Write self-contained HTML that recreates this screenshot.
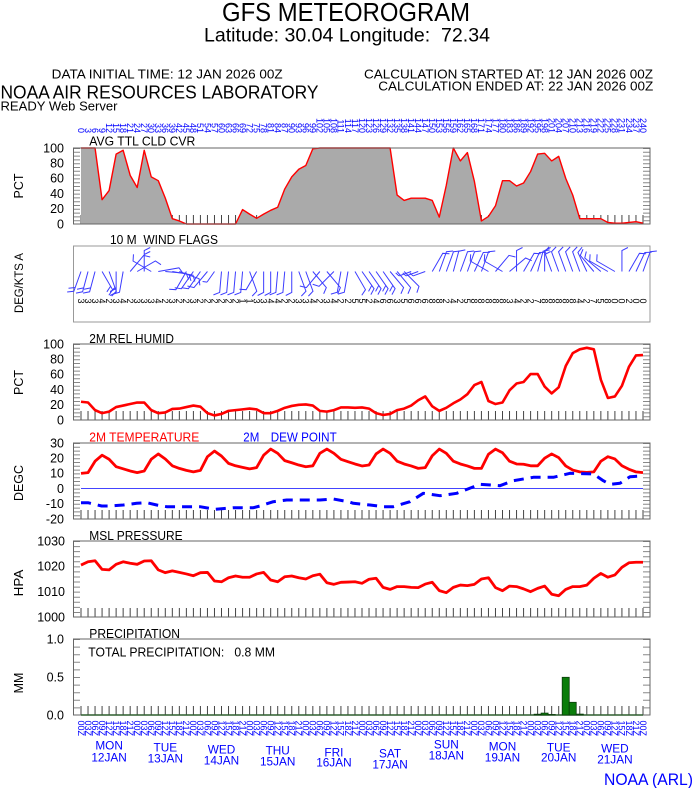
<!DOCTYPE html>
<html><head><meta charset="utf-8"><style>
html,body{margin:0;padding:0;background:#fff;}
body{width:694px;height:788px;overflow:hidden;}
svg{display:block;font-family:"Liberation Sans",Arial,sans-serif;}
</style></head><body>
<svg width="694" height="788" viewBox="0 0 694 788" xmlns="http://www.w3.org/2000/svg">
<defs>
<g id="w0"><path d="M0,0V-13M0,-13L4,-15" fill="none" stroke="#3c3cff" stroke-width="1"/></g>
<g id="w1"><path d="M0,0V-21L6,-24" fill="none" stroke="#3c3cff" stroke-width="1"/></g>
<g id="w2"><path d="M0,0V-21L6,-24M0,-17L6,-20" fill="none" stroke="#3c3cff" stroke-width="1"/></g>
</defs>
<rect width="694" height="788" fill="#fff"/>

<!-- header -->
<text x="222" y="21" font-size="26" textLength="248" lengthAdjust="spacingAndGlyphs">GFS METEOROGRAM</text>
<text x="204" y="41.7" font-size="19.5" textLength="286" lengthAdjust="spacingAndGlyphs">Latitude: 30.04 Longitude:&#160; 72.34</text>
<text x="51.7" y="78.3" font-size="13" textLength="231" lengthAdjust="spacingAndGlyphs">DATA INITIAL TIME: 12 JAN 2026 00Z</text>
<text x="364" y="78.3" font-size="13" textLength="289" lengthAdjust="spacingAndGlyphs">CALCULATION STARTED AT: 12 JAN 2026 00Z</text>
<text x="378.3" y="90.7" font-size="13" textLength="275" lengthAdjust="spacingAndGlyphs">CALCULATION ENDED AT: 22 JAN 2026 00Z</text>
<text x="0.5" y="98.3" font-size="18.5" textLength="318" lengthAdjust="spacingAndGlyphs">NOAA AIR RESOURCES LABORATORY</text>
<text x="0.5" y="110.5" font-size="13" textLength="117" lengthAdjust="spacingAndGlyphs">READY Web Server</text>

<!-- top forecast hour labels -->
<g transform="rotate(90)" font-size="9" fill="#0000ff" text-anchor="end">
<text x="133" y="-77.8">0</text><text x="133" y="-84.83">3</text><text x="133" y="-91.85">6</text><text x="133" y="-98.88">9</text><text x="133" y="-105.9">12</text><text x="133" y="-112.93">15</text><text x="133" y="-119.95">18</text><text x="133" y="-126.98">21</text><text x="133" y="-134">24</text><text x="133" y="-141.03">27</text><text x="133" y="-148.05">30</text><text x="133" y="-155.08">33</text><text x="133" y="-162.1">36</text><text x="133" y="-169.13">39</text><text x="133" y="-176.15">42</text><text x="133" y="-183.18">45</text><text x="133" y="-190.2">48</text><text x="133" y="-197.23">51</text><text x="133" y="-204.25">54</text><text x="133" y="-211.28">57</text><text x="133" y="-218.3">60</text><text x="133" y="-225.33">63</text><text x="133" y="-232.35">66</text><text x="133" y="-239.38">69</text><text x="133" y="-246.4">72</text><text x="133" y="-253.43">75</text><text x="133" y="-260.45">78</text><text x="133" y="-267.48">81</text><text x="133" y="-274.5">84</text><text x="133" y="-281.53">87</text><text x="133" y="-288.55">90</text><text x="133" y="-295.58">93</text><text x="133" y="-302.6">96</text><text x="133" y="-309.63">99</text><text x="133" y="-316.65">102</text><text x="133" y="-323.68">105</text><text x="133" y="-330.7">108</text><text x="133" y="-337.73">111</text><text x="133" y="-344.75">114</text><text x="133" y="-351.78">117</text><text x="133" y="-358.8">120</text><text x="133" y="-365.83">123</text><text x="133" y="-372.85">126</text><text x="133" y="-379.88">129</text><text x="133" y="-386.9">132</text><text x="133" y="-393.93">135</text><text x="133" y="-400.95">138</text><text x="133" y="-407.98">141</text><text x="133" y="-415">144</text><text x="133" y="-422.03">147</text><text x="133" y="-429.05">150</text><text x="133" y="-436.08">153</text><text x="133" y="-443.1">156</text><text x="133" y="-450.13">159</text><text x="133" y="-457.15">162</text><text x="133" y="-464.18">165</text><text x="133" y="-471.2">168</text><text x="133" y="-478.23">171</text><text x="133" y="-485.25">174</text><text x="133" y="-492.28">177</text><text x="133" y="-499.3">180</text><text x="133" y="-506.33">183</text><text x="133" y="-513.35">186</text><text x="133" y="-520.38">189</text><text x="133" y="-527.4">192</text><text x="133" y="-534.43">195</text><text x="133" y="-541.45">198</text><text x="133" y="-548.48">201</text><text x="133" y="-555.5">204</text><text x="133" y="-562.53">207</text><text x="133" y="-569.55">210</text><text x="133" y="-576.58">213</text><text x="133" y="-583.6">216</text><text x="133" y="-590.63">219</text><text x="133" y="-597.65">222</text><text x="133" y="-604.68">225</text><text x="133" y="-611.7">228</text><text x="133" y="-618.73">231</text><text x="133" y="-625.75">234</text><text x="133" y="-632.78">237</text><text x="133" y="-639.8">240</text>
</g>

<!-- axis titles -->
<g font-size="13" text-anchor="middle">
<text transform="translate(23,186) rotate(-90)" textLength="25" lengthAdjust="spacingAndGlyphs">PCT</text>
<text transform="translate(23,283) rotate(-90)" font-size="11.5" textLength="60" lengthAdjust="spacingAndGlyphs">DEG/KTS A</text>
<text transform="translate(23,382.5) rotate(-90)" textLength="25" lengthAdjust="spacingAndGlyphs">PCT</text>
<text transform="translate(23,483) rotate(-90)" textLength="36" lengthAdjust="spacingAndGlyphs">DEGC</text>
<text transform="translate(23,583) rotate(-90)" textLength="26.7" lengthAdjust="spacingAndGlyphs">HPA</text>
<text transform="translate(23,683) rotate(-90)" textLength="20.7" lengthAdjust="spacingAndGlyphs">MM</text>
</g>

<!-- y tick labels -->
<g font-size="12.5" text-anchor="end">
<text x="64" y="152.3">100</text><text x="64" y="167.5">80</text><text x="64" y="182.7">60</text><text x="64" y="197.9">40</text><text x="64" y="213.1">20</text><text x="64" y="228.3">0</text>
<text x="64" y="348.3">100</text><text x="64" y="363.5">80</text><text x="64" y="378.7">60</text><text x="64" y="393.9">40</text><text x="64" y="409.1">20</text><text x="64" y="424.3">0</text>
<text x="64" y="447.3">30</text><text x="64" y="462.5">20</text><text x="64" y="477.7">10</text><text x="64" y="492.9">0</text><text x="64" y="508.1">-10</text><text x="64" y="523.3">-20</text>
<text x="65" y="545.3">1030</text><text x="65" y="570.6">1020</text><text x="65" y="596">1010</text><text x="65" y="621.3">1000</text>
<text x="64" y="643.3">1.0</text><text x="64" y="681.3">0.5</text><text x="64" y="719.3">0.0</text>
</g>

<!-- panel titles -->
<g font-size="12.5">
<text x="89.3" y="145.5" textLength="106" lengthAdjust="spacingAndGlyphs">AVG TTL CLD CVR</text>
<text x="110" y="244" textLength="108" lengthAdjust="spacingAndGlyphs">10 M&#160; WIND FLAGS</text>
<text x="89.3" y="343" textLength="84.7" lengthAdjust="spacingAndGlyphs">2M REL HUMID</text>
<text x="89.3" y="441.5" fill="#ff0000" textLength="110" lengthAdjust="spacingAndGlyphs">2M TEMPERATURE</text>
<text x="243.3" y="441.5" fill="#0000ff" textLength="16" lengthAdjust="spacingAndGlyphs">2M</text>
<text x="270.7" y="441.5" fill="#0000ff" textLength="66" lengthAdjust="spacingAndGlyphs">DEW POINT</text>
<text x="89.3" y="540" textLength="93.3" lengthAdjust="spacingAndGlyphs">MSL PRESSURE</text>
<text x="89.3" y="638" textLength="90.7" lengthAdjust="spacingAndGlyphs">PRECIPITATION</text>
<text x="88.3" y="656.5" textLength="186.7" lengthAdjust="spacingAndGlyphs">TOTAL PRECIPITATION:&#160;&#160; 0.8 MM</text>
</g>

<!-- ===== CLOUD PANEL ===== -->
<line x1="80.5" y1="219.5" x2="644" y2="219.5" stroke="#444" stroke-width="9" stroke-dasharray="1 6.025"/>
<g transform="translate(81,224) scale(7.025,-0.76)">
<polygon fill="#aaaaaa" points="0,0 0,100 1,100 2,100 3,32 4,44 5,92 6,97 7,64 8,48 9,97 10,62 11,57 12,34 13,7 14,4 15,0 16,0 17,0 18,0 19,0 20,0 21,0 22,0 23,19 24,13 25,7.5 26,13 27,18 28,22 29,46 30,62 31,72 32,77 33,99 34,100 35,100 36,100 37,100 38,100 39,100 40,100 41,100 42,100 43,100 44,100 45,38 46,31 47,34 48,34 49,34 50,31 51,9 52,51 53,100 54,83 55,94 56,56 57,4 58,10 59,24 60,57 61,57 62,50 63,54 64,69 65,92 66,93 67,83 68,89 69,60 70,38 71,7 72,7 73,7 74,7 75,2 76,1 77,1 78,2 79,3 80,1 80,0"/>
<polyline fill="none" stroke="#ff0000" stroke-width="1.4" vector-effect="non-scaling-stroke" stroke-linejoin="round" points="0,100 1,100 2,100 3,32 4,44 5,92 6,97 7,64 8,48 9,97 10,62 11,57 12,34 13,7 14,4 15,0 16,0 17,0 18,0 19,0 20,0 21,0 22,0 23,19 24,13 25,7.5 26,13 27,18 28,22 29,46 30,62 31,72 32,77 33,99 34,100 35,100 36,100 37,100 38,100 39,100 40,100 41,100 42,100 43,100 44,100 45,38 46,31 47,34 48,34 49,34 50,31 51,9 52,51 53,100 54,83 55,94 56,56 57,4 58,10 59,24 60,57 61,57 62,50 63,54 64,69 65,92 66,93 67,83 68,89 69,60 70,38 71,7 72,7 73,7 74,7 75,2 76,1 77,1 78,2 79,3 80,1"/>
</g>
<line x1="77" y1="148" x2="77" y2="224.5" stroke="#888" stroke-width="6" stroke-dasharray="1 2.8"/>
<line x1="646.5" y1="148" x2="646.5" y2="224.5" stroke="#888" stroke-width="7" stroke-dasharray="1 2.8"/>
<rect x="73.5" y="148" width="576.5" height="76" fill="none" stroke="#666" stroke-width="1"/>

<!-- ===== WIND PANEL ===== -->
<rect x="73.5" y="246" width="576.5" height="76" fill="none" stroke="#999" stroke-width="1"/>
<g>
<use href="#w2" transform="translate(81,271.5) rotate(200)"/>
<use href="#w2" transform="translate(88.03,271.5) rotate(195)"/>
<use href="#w2" transform="translate(95.05,271.5) rotate(195)"/>
<use href="#w2" transform="translate(102.08,271.5) rotate(150)"/>
<use href="#w2" transform="translate(109.1,271.5) rotate(160)"/>
<use href="#w2" transform="translate(116.13,271.5) rotate(180)"/>
<use href="#w1" transform="translate(123.15,271.5) rotate(190)"/>
<use href="#w1" transform="translate(130.18,271.5) rotate(40)"/>
<use href="#w1" transform="translate(137.2,271.5) rotate(60)"/>
<use href="#w2" transform="translate(144.23,271.5) rotate(0)"/>
<use href="#w1" transform="translate(151.25,271.5) rotate(300)"/>
<use href="#w1" transform="translate(158.28,271.5) rotate(80)"/>
<use href="#w1" transform="translate(165.3,271.5) rotate(95)"/>
<use href="#w2" transform="translate(172.33,271.5) rotate(100)"/>
<use href="#w1" transform="translate(179.35,271.5) rotate(110)"/>
<use href="#w1" transform="translate(186.38,271.5) rotate(210)"/>
<use href="#w1" transform="translate(193.4,271.5) rotate(215)"/>
<use href="#w1" transform="translate(200.43,271.5) rotate(215)"/>
<use href="#w1" transform="translate(207.45,271.5) rotate(220)"/>
<use href="#w0" transform="translate(214.48,271.5) rotate(215)"/>
<use href="#w1" transform="translate(221.5,271.5) rotate(185)"/>
<use href="#w1" transform="translate(228.53,271.5) rotate(185)"/>
<use href="#w1" transform="translate(235.55,271.5) rotate(185)"/>
<use href="#w1" transform="translate(242.58,271.5) rotate(185)"/>
<use href="#w1" transform="translate(249.6,271.5) rotate(160)"/>
<use href="#w1" transform="translate(256.63,271.5) rotate(210)"/>
<use href="#w1" transform="translate(263.65,271.5) rotate(180)"/>
<use href="#w1" transform="translate(270.68,271.5) rotate(180)"/>
<use href="#w1" transform="translate(277.7,271.5) rotate(185)"/>
<use href="#w1" transform="translate(284.73,271.5) rotate(185)"/>
<use href="#w1" transform="translate(291.75,271.5) rotate(180)"/>
<use href="#w1" transform="translate(298.78,271.5) rotate(160)"/>
<use href="#w1" transform="translate(305.8,271.5) rotate(160)"/>
<use href="#w1" transform="translate(312.83,271.5) rotate(140)"/>
<use href="#w1" transform="translate(319.85,271.5) rotate(220)"/>
<use href="#w1" transform="translate(326.88,271.5) rotate(140)"/>
<use href="#w1" transform="translate(333.9,271.5) rotate(225)"/>
<use href="#w1" transform="translate(340.93,271.5) rotate(190)"/>
<use href="#w1" transform="translate(347.95,271.5) rotate(190)"/>
<use href="#w1" transform="translate(354.98,271.5) rotate(150)"/>
<use href="#w2" transform="translate(362,271.5) rotate(145)"/>
<use href="#w2" transform="translate(369.03,271.5) rotate(145)"/>
<use href="#w2" transform="translate(376.05,271.5) rotate(145)"/>
<use href="#w2" transform="translate(383.08,271.5) rotate(145)"/>
<use href="#w1" transform="translate(390.1,271.5) rotate(140)"/>
<use href="#w1" transform="translate(397.13,271.5) rotate(140)"/>
<use href="#w1" transform="translate(404.15,271.5) rotate(135)"/>
<use href="#w0" transform="translate(411.18,271.5) rotate(250)"/>
<use href="#w0" transform="translate(418.2,271.5) rotate(250)"/>
<use href="#w0" transform="translate(425.23,271.5) rotate(250)"/>
<use href="#w1" transform="translate(432.25,271.5) rotate(30)"/>
<use href="#w1" transform="translate(439.28,271.5) rotate(20)"/>
<use href="#w1" transform="translate(446.3,271.5) rotate(20)"/>
<use href="#w1" transform="translate(453.33,271.5) rotate(15)"/>
<use href="#w1" transform="translate(460.35,271.5) rotate(20)"/>
<use href="#w1" transform="translate(467.38,271.5) rotate(20)"/>
<use href="#w1" transform="translate(474.4,271.5) rotate(25)"/>
<use href="#w1" transform="translate(481.43,271.5) rotate(20)"/>
<use href="#w1" transform="translate(488.45,271.5) rotate(300)"/>
<use href="#w1" transform="translate(495.48,271.5) rotate(40)"/>
<use href="#w1" transform="translate(502.5,271.5) rotate(300)"/>
<use href="#w1" transform="translate(509.53,271.5) rotate(50)"/>
<use href="#w1" transform="translate(516.55,271.5) rotate(0)"/>
<use href="#w1" transform="translate(523.58,271.5) rotate(30)"/>
<use href="#w1" transform="translate(530.6,271.5) rotate(25)"/>
<use href="#w1" transform="translate(537.63,271.5) rotate(15)"/>
<use href="#w2" transform="translate(544.65,271.5) rotate(0)"/>
<use href="#w1" transform="translate(551.68,271.5) rotate(340)"/>
<use href="#w1" transform="translate(558.7,271.5) rotate(340)"/>
<use href="#w1" transform="translate(565.73,271.5) rotate(340)"/>
<use href="#w1" transform="translate(572.75,271.5) rotate(340)"/>
<use href="#w1" transform="translate(579.78,271.5) rotate(340)"/>
<use href="#w1" transform="translate(586.8,271.5) rotate(335)"/>
<use href="#w1" transform="translate(593.83,271.5) rotate(320)"/>
<use href="#w1" transform="translate(600.85,271.5) rotate(310)"/>
<use href="#w1" transform="translate(607.88,271.5) rotate(300)"/>
<use href="#w1" transform="translate(614.9,271.5) rotate(300)"/>
<use href="#w1" transform="translate(621.93,271.5) rotate(0)"/>
<use href="#w1" transform="translate(628.95,271.5) rotate(30)"/>
<use href="#w1" transform="translate(635.98,271.5) rotate(25)"/>
<use href="#w1" transform="translate(643,271.5) rotate(20)"/>
</g>
<g transform="rotate(90)" font-size="9" fill="#000" text-anchor="middle">
<text x="301" y="-77.8">3</text><text x="301" y="-84.83">3</text><text x="301" y="-91.85">3</text><text x="301" y="-98.88">4</text><text x="301" y="-105.9">2</text><text x="301" y="-112.93">3</text><text x="301" y="-119.95">4</text><text x="301" y="-126.98">2</text><text x="301" y="-134">3</text><text x="301" y="-141.03">3</text><text x="301" y="-148.05">3</text><text x="301" y="-155.08">4</text><text x="301" y="-162.1">2</text><text x="301" y="-169.13">3</text><text x="301" y="-176.15">2</text><text x="301" y="-183.18">2</text><text x="301" y="-190.2">3</text><text x="301" y="-197.23">2</text><text x="301" y="-204.25">2</text><text x="301" y="-211.28">2</text><text x="301" y="-218.3">2</text><text x="301" y="-225.33">2</text><text x="301" y="-232.35">2</text><text x="301" y="-239.38">1</text><text x="301" y="-246.4">1</text><text x="301" y="-253.43">3</text><text x="301" y="-260.45">3</text><text x="301" y="-267.48">4</text><text x="301" y="-274.5">4</text><text x="301" y="-281.53">2</text><text x="301" y="-288.55">2</text><text x="301" y="-295.58">3</text><text x="301" y="-302.6">3</text><text x="301" y="-309.63">4</text><text x="301" y="-316.65">2</text><text x="301" y="-323.68">3</text><text x="301" y="-330.7">4</text><text x="301" y="-337.73">2</text><text x="301" y="-344.75">2</text><text x="301" y="-351.78">5</text><text x="301" y="-358.8">5</text><text x="301" y="-365.83">2</text><text x="301" y="-372.85">4</text><text x="301" y="-379.88">6</text><text x="301" y="-386.9">6</text><text x="301" y="-393.93">3</text><text x="301" y="-400.95">5</text><text x="301" y="-407.98">6</text><text x="301" y="-415">6</text><text x="301" y="-422.03">6</text><text x="301" y="-429.05">8</text><text x="301" y="-436.08">8</text><text x="301" y="-443.1">2</text><text x="301" y="-450.13">4</text><text x="301" y="-457.15">2</text><text x="301" y="-464.18">5</text><text x="301" y="-471.2">8</text><text x="301" y="-478.23">8</text><text x="301" y="-485.25">8</text><text x="301" y="-492.28">8</text><text x="301" y="-499.3">8</text><text x="301" y="-506.33">3</text><text x="301" y="-513.35">4</text><text x="301" y="-520.38">2</text><text x="301" y="-527.4">2</text><text x="301" y="-534.43">7</text><text x="301" y="-541.45">8</text><text x="301" y="-548.48">8</text><text x="301" y="-555.5">8</text><text x="301" y="-562.53">8</text><text x="301" y="-569.55">8</text><text x="301" y="-576.58">4</text><text x="301" y="-583.6">2</text><text x="301" y="-590.63">7</text><text x="301" y="-597.65">5</text><text x="301" y="-604.68">8</text><text x="301" y="-611.7">0</text><text x="301" y="-618.73">0</text><text x="301" y="-625.75">2</text><text x="301" y="-632.78">0</text><text x="301" y="-639.8">0</text>
</g>

<!-- ===== RH PANEL ===== -->
<line x1="80.5" y1="415.5" x2="644" y2="415.5" stroke="#444" stroke-width="9" stroke-dasharray="1 6.025"/>
<line x1="77" y1="344" x2="77" y2="420.5" stroke="#888" stroke-width="6" stroke-dasharray="1 2.8"/>
<line x1="646.5" y1="344" x2="646.5" y2="420.5" stroke="#888" stroke-width="7" stroke-dasharray="1 2.8"/>
<rect x="73.5" y="344" width="576.5" height="76" fill="none" stroke="#666" stroke-width="1"/>
<g transform="translate(81,420) scale(7.025,-0.76)">
<polyline fill="none" stroke="#ff0000" stroke-width="2.6" vector-effect="non-scaling-stroke" stroke-linejoin="round" points="0,24 1,23 2,13 3,9 4,11 5,17 6,19 7,21 8,23 9,23 10,13 11,9 12,10 13,14.5 14,15 15,17 16,19 17,17.5 18,9 19,6 20,8 21,12 22,13 23,14 24,15 25,14 26,9 27,9 28,12 29,16 30,18.5 31,20 32,20.5 33,19 34,12 35,11 36,13 37,16.5 38,16.5 39,16 40,16.5 41,15 42,9 43,6.6 44,8 45,13 46,15 47,19 48,26 49,31 50,18 51,12 52,16 53,22 54,27 55,34 56,46 57,50 58,25 59,21 60,23 61,39 62,48 63,50 64,60.5 65,60.5 66,44 67,35 68,43 69,71 70,88 71,93 72,95 73,93 74,53 75,29 76,31 77,45 78,70 79,85 80,85.5"/>
</g>

<!-- ===== TEMPERATURE PANEL ===== -->
<line x1="80.5" y1="514.5" x2="644" y2="514.5" stroke="#444" stroke-width="9" stroke-dasharray="1 6.025"/>
<line x1="77" y1="443" x2="77" y2="519.5" stroke="#888" stroke-width="6" stroke-dasharray="1 2.8"/>
<line x1="646.5" y1="443" x2="646.5" y2="519.5" stroke="#888" stroke-width="7" stroke-dasharray="1 2.8"/>
<rect x="73.5" y="443" width="576.5" height="76" fill="none" stroke="#666" stroke-width="1"/>
<line x1="81" y1="488.5" x2="643" y2="488.5" stroke="#4444ff" stroke-width="1"/>
<g transform="translate(81,488.6) scale(7.025,-1.52)">
<polyline fill="none" stroke="#ff0000" stroke-width="2.8" vector-effect="non-scaling-stroke" stroke-linejoin="round" points="0,10 1,10.5 2,18 3,22 4,19.3 5,14.4 6,13 7,11.6 8,10.5 9,11.6 10,19.3 11,22.8 12,19.5 13,15 14,13.3 15,12 16,11 17,12 18,21 19,24.7 20,21.4 21,16.6 22,15 23,14 24,13 25,13.8 26,22 27,26 28,23.2 29,18.4 30,17 31,15.5 32,14.4 33,15 34,23.2 35,26 36,23.2 37,19.3 38,17.7 39,16.2 40,14.9 41,15.5 42,22.8 43,26 44,23.2 45,18 46,16.2 47,14.9 48,13.3 49,13.8 50,21.6 51,26 52,23.2 53,18 54,16.2 55,14.9 56,13.3 57,13.3 58,22.6 59,26 60,23.6 61,18 62,16.2 63,16 64,15 65,15 66,20 67,22.8 68,20.4 69,14.9 70,12.2 71,11 72,10.7 73,11 74,18 75,21 76,19.5 77,15 78,12.7 79,11 80,10.5"/>
</g>
<polyline fill="none" stroke="#0000ff" stroke-width="3" stroke-dasharray="10 7" stroke-linejoin="round" points="81,502.7 88,502.7 101.7,506 110,506 123.3,505 136.7,503.3 146.7,502.7 156.7,505 166.7,506.7 200,506.7 215,509.3 233.3,507.7 253.3,507.7 260,506 273.3,501.7 286.7,500 320,500 333.3,499 348.3,501.7 353.3,503.3 370,505 383.3,506.7 393.3,506.7 410,501.7 423.3,493.3 440,495.7 456.7,493.3 480,484.3 500,485.7 513.3,480.7 533.3,477.3 553.3,477.3 570,473.3 593.3,474 603.3,480.7 610,484.3 620,483.3 630,476.7 642.7,476"/>

<!-- ===== PRESSURE PANEL ===== -->
<line x1="80.5" y1="612.5" x2="644" y2="612.5" stroke="#444" stroke-width="9" stroke-dasharray="1 6.025"/>
<line x1="77" y1="541" x2="77" y2="617.5" stroke="#888" stroke-width="6" stroke-dasharray="1 4.067"/>
<line x1="646.5" y1="541" x2="646.5" y2="617.5" stroke="#888" stroke-width="7" stroke-dasharray="1 4.067"/>
<rect x="73.5" y="541" width="576.5" height="76" fill="none" stroke="#666" stroke-width="1"/>
<g transform="translate(81,617) scale(7.025,-2.5333)">
<polyline fill="none" stroke="#ff0000" stroke-width="2.8" vector-effect="non-scaling-stroke" stroke-linejoin="round" points="0,20.5 1,21.8 2,22.2 3,18.8 4,18.6 5,20.8 6,21.8 7,21.2 8,20.8 9,22.1 10,22.2 11,18.6 12,17.5 13,18.2 14,17.6 15,17 16,16.3 17,17.5 18,17.6 19,14.2 20,13.9 21,15.5 22,16.2 23,15.7 24,15.7 25,17 26,17.6 27,14.6 28,13.9 29,15.9 30,16.2 31,15.5 32,15 33,16.3 34,16.9 35,13.5 36,12.9 37,13.7 38,13.8 39,13.9 40,13.3 41,14.9 42,15.3 43,11.7 44,10.9 45,12 46,12 47,11.7 48,11.6 49,13 50,13.7 51,10.4 52,9.6 53,11.7 54,12.6 55,12.4 56,12.9 57,15 58,15.5 59,11.6 60,10.4 61,12.2 62,12 63,11.1 64,10 65,11.3 66,12.2 67,9 68,8.4 69,10.9 70,12 71,12 72,12.6 73,15.3 74,17.2 75,15.7 76,16.6 77,19.6 78,21.4 79,21.6 80,21.6"/>
</g>

<!-- ===== PRECIP PANEL ===== -->
<line x1="80.5" y1="710.5" x2="644" y2="710.5" stroke="#444" stroke-width="9" stroke-dasharray="1 6.025"/>
<line x1="77" y1="639" x2="77" y2="715.5" stroke="#888" stroke-width="6" stroke-dasharray="1 6.6"/>
<line x1="646.5" y1="639" x2="646.5" y2="715.5" stroke="#888" stroke-width="7" stroke-dasharray="1 6.6"/>
<rect x="73.5" y="639" width="576.5" height="76" fill="none" stroke="#666" stroke-width="1"/>
<line x1="81" y1="715" x2="643" y2="715" stroke="#2f5f2f" stroke-width="1.5"/>
<g fill="#0a7d0a" stroke="#0b3d0b" stroke-width="0.8">
<rect x="534.1" y="714.2" width="7.03" height="0.8"/>
<rect x="541.1" y="713.1" width="7.03" height="1.9"/>
<rect x="548.2" y="714.5" width="7.03" height="0.5"/>
<rect x="562.2" y="677.3" width="7.03" height="37.7"/>
<rect x="569.2" y="702.3" width="7.03" height="12.7"/>
<rect x="576.3" y="714.1" width="7.03" height="0.9"/>
</g>

<!-- bottom hour labels -->
<g transform="rotate(90)" font-size="9" fill="#0000ff" text-anchor="start">
<text x="720.5" y="-77.8">00Z</text><text x="720.5" y="-84.83">03Z</text><text x="720.5" y="-91.85">06Z</text><text x="720.5" y="-98.88">09Z</text><text x="720.5" y="-105.9">12Z</text><text x="720.5" y="-112.93">15Z</text><text x="720.5" y="-119.95">18Z</text><text x="720.5" y="-126.98">21Z</text><text x="720.5" y="-134">00Z</text><text x="720.5" y="-141.03">03Z</text><text x="720.5" y="-148.05">06Z</text><text x="720.5" y="-155.08">09Z</text><text x="720.5" y="-162.1">12Z</text><text x="720.5" y="-169.13">15Z</text><text x="720.5" y="-176.15">18Z</text><text x="720.5" y="-183.18">21Z</text><text x="720.5" y="-190.2">00Z</text><text x="720.5" y="-197.23">03Z</text><text x="720.5" y="-204.25">06Z</text><text x="720.5" y="-211.28">09Z</text><text x="720.5" y="-218.3">12Z</text><text x="720.5" y="-225.33">15Z</text><text x="720.5" y="-232.35">18Z</text><text x="720.5" y="-239.38">21Z</text><text x="720.5" y="-246.4">00Z</text><text x="720.5" y="-253.43">03Z</text><text x="720.5" y="-260.45">06Z</text><text x="720.5" y="-267.48">09Z</text><text x="720.5" y="-274.5">12Z</text><text x="720.5" y="-281.53">15Z</text><text x="720.5" y="-288.55">18Z</text><text x="720.5" y="-295.58">21Z</text><text x="720.5" y="-302.6">00Z</text><text x="720.5" y="-309.63">03Z</text><text x="720.5" y="-316.65">06Z</text><text x="720.5" y="-323.68">09Z</text><text x="720.5" y="-330.7">12Z</text><text x="720.5" y="-337.73">15Z</text><text x="720.5" y="-344.75">18Z</text><text x="720.5" y="-351.78">21Z</text><text x="720.5" y="-358.8">00Z</text><text x="720.5" y="-365.83">03Z</text><text x="720.5" y="-372.85">06Z</text><text x="720.5" y="-379.88">09Z</text><text x="720.5" y="-386.9">12Z</text><text x="720.5" y="-393.93">15Z</text><text x="720.5" y="-400.95">18Z</text><text x="720.5" y="-407.98">21Z</text><text x="720.5" y="-415">00Z</text><text x="720.5" y="-422.03">03Z</text><text x="720.5" y="-429.05">06Z</text><text x="720.5" y="-436.08">09Z</text><text x="720.5" y="-443.1">12Z</text><text x="720.5" y="-450.13">15Z</text><text x="720.5" y="-457.15">18Z</text><text x="720.5" y="-464.18">21Z</text><text x="720.5" y="-471.2">00Z</text><text x="720.5" y="-478.23">03Z</text><text x="720.5" y="-485.25">06Z</text><text x="720.5" y="-492.28">09Z</text><text x="720.5" y="-499.3">12Z</text><text x="720.5" y="-506.33">15Z</text><text x="720.5" y="-513.35">18Z</text><text x="720.5" y="-520.38">21Z</text><text x="720.5" y="-527.4">00Z</text><text x="720.5" y="-534.43">03Z</text><text x="720.5" y="-541.45">06Z</text><text x="720.5" y="-548.48">09Z</text><text x="720.5" y="-555.5">12Z</text><text x="720.5" y="-562.53">15Z</text><text x="720.5" y="-569.55">18Z</text><text x="720.5" y="-576.58">21Z</text><text x="720.5" y="-583.6">00Z</text><text x="720.5" y="-590.63">03Z</text><text x="720.5" y="-597.65">06Z</text><text x="720.5" y="-604.68">09Z</text><text x="720.5" y="-611.7">12Z</text><text x="720.5" y="-618.73">15Z</text><text x="720.5" y="-625.75">18Z</text><text x="720.5" y="-632.78">21Z</text><text x="720.5" y="-639.8">00Z</text>
</g>

<!-- day labels -->
<g font-size="11.8" fill="#0000ff" text-anchor="middle">
<text x="109.1" y="749.3">MON</text><text x="109.1" y="761.3">12JAN</text>
<text x="165.3" y="751.3">TUE</text><text x="165.3" y="762.3">13JAN</text>
<text x="221.5" y="753.3">WED</text><text x="221.5" y="764.3">14JAN</text>
<text x="277.7" y="754.3">THU</text><text x="277.7" y="765.3">15JAN</text>
<text x="333.9" y="756.3">FRI</text><text x="333.9" y="766.3">16JAN</text>
<text x="390.1" y="757.3">SAT</text><text x="390.1" y="768.4">17JAN</text>
<text x="446.3" y="748.3">SUN</text><text x="446.3" y="759.3">18JAN</text>
<text x="502.5" y="750.3">MON</text><text x="502.5" y="761.3">19JAN</text>
<text x="558.7" y="751.3">TUE</text><text x="558.7" y="761.5">20JAN</text>
<text x="614.9" y="752.3">WED</text><text x="614.9" y="763.3">21JAN</text>
</g>
<text x="604" y="785" font-size="16.5" fill="#0000ff" textLength="89" lengthAdjust="spacingAndGlyphs">NOAA (ARL)</text>
</svg>
</body></html>
